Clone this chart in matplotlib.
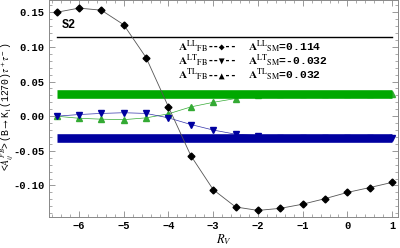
import matplotlib
matplotlib.use('Agg')
import matplotlib.pyplot as plt
from matplotlib.ticker import MultipleLocator, FuncFormatter

plt.rcParams['font.family'] = ['Liberation Mono', 'DejaVu Sans']
plt.rcParams['mathtext.fontset'] = 'stix'

# R_V values and asymmetries
rv = [-6.5, -6, -5.5, -5, -4.5, -4, -3.5, -3, -2.5, -2, -1.5, -1, -0.5, 0, 0.5, 1]
a_ll = [0.150, 0.156, 0.153, 0.132, 0.0846, 0.0134, -0.057, -0.106, -0.131, -0.136,
        -0.133, -0.127, -0.119, -0.110, -0.103, -0.0955]
a_lt = [0.0, 0.0024, 0.004, 0.005, 0.004, -0.0024, -0.012, -0.020, -0.026, -0.028,
        -0.031, -0.032, -0.032, -0.032, -0.032, -0.032]
a_tl = [0.0, -0.003, -0.0043, -0.005, -0.0024, 0.0034, 0.0134, 0.020, 0.0255, 0.030,
        0.032, 0.032, 0.032, 0.032, 0.032, 0.032]
sm_ll, sm_lt, sm_tl = 0.114, -0.032, 0.032
sm_x = [-6.5, 1]

fig = plt.figure(figsize=(4, 2.48), dpi=100, facecolor='w')
ax = fig.add_axes([0.1225, 0.125, 0.8725, 0.873])

ax.plot(sm_x, [sm_tl, sm_tl], color='#00a800', lw=6.2, solid_capstyle='butt', zorder=1)
ax.plot(sm_x, [sm_lt, sm_lt], color='#0000a0', lw=6.2, solid_capstyle='butt', zorder=1)
ax.plot(sm_x, [sm_ll, sm_ll], color='black', lw=1.0, zorder=1)

ax.plot(rv, a_tl, color='#33aa33', lw=0.5, marker='^', ms=4, mfc='#33aa33', mec='#33aa33', zorder=0.5)
ax.plot(rv, a_lt, color='#3333aa', lw=0.5, marker='v', ms=4, mfc='#0000a0', mec='#0000a0', zorder=0.5)
ax.plot(rv, a_ll, color='#555555', lw=0.6, marker='D', ms=3.5, mfc='black', mec='black', zorder=2)

ax.set_xlim(-6.67, 1.13)
ax.set_ylim(-0.1455, 0.167)
ax.xaxis.set_major_locator(MultipleLocator(1))
ax.xaxis.set_minor_locator(MultipleLocator(0.2))
ax.yaxis.set_major_locator(MultipleLocator(0.05))
ax.yaxis.set_minor_locator(MultipleLocator(0.01))
ax.tick_params(which='both', direction='in', top=True, right=True, color='#888888',
               labelsize=7.5, pad=3)
ax.tick_params(which='major', length=4, width=0.6)
ax.tick_params(which='minor', length=2, width=0.5)
ax.yaxis.set_major_formatter(FuncFormatter(lambda v, p: '0.00' if abs(v) < 1e-9 else '%.2f' % v))
for lab in ax.get_xticklabels() + ax.get_yticklabels():
    lab.set_fontweight('bold')
for s in ax.spines.values():
    s.set_color('#888888')
    s.set_linewidth(0.7)

ax.set_xlabel(r'$R_V$', fontsize=9)
ax.xaxis.set_label_coords(0.5, -0.07)
ax.set_ylabel(r'<$A_{ij}^{\,FB}$>$\,$(B$\rightarrow$K$_1$(1270)$\tau^+\tau^-$)', fontsize=7)
ax.yaxis.set_label_coords(-0.095, 0.51)

ax.text(0.037, 0.887, 'S2', transform=ax.transAxes, fontsize=8.5, fontweight='bold', va='center')
rows = [('LL', '\u25c6', '0.114'), ('LT', '\u25bc', '-0.032'), ('TL', '\u25b2', '0.032')]
for i, (lbl, mk, val) in enumerate(rows):
    y = 0.785 - i * 0.065
    ax.text(0.37, y, r'$\mathbf{A}^{\mathrm{%s}}{}_{\mathrm{FB}}$' % lbl,
            transform=ax.transAxes, fontsize=8.2, fontweight='bold', va='center')
    ax.text(0.455, y, '--' + mk + '--', family='DejaVu Sans Mono',
            transform=ax.transAxes, fontsize=7, fontweight='bold', va='center')
    ax.text(0.57, y, r'$\mathbf{A}^{\mathrm{%s}}{}_{\mathrm{SM}}$=%s' % (lbl, val),
            transform=ax.transAxes, fontsize=8.2, fontweight='bold', va='center')

fig.savefig('out.png', dpi=100)
